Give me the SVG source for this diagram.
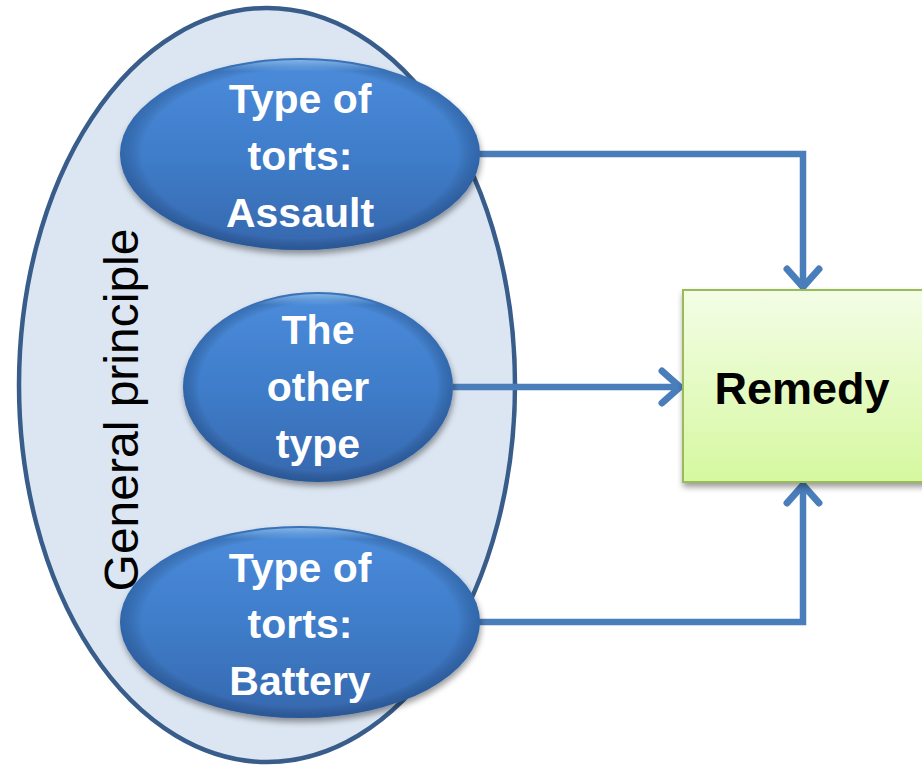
<svg xmlns="http://www.w3.org/2000/svg" width="922" height="766" viewBox="0 0 922 766">
<defs>
<linearGradient id="blue" x1="0" y1="0" x2="0" y2="1">
<stop offset="0" stop-color="#4b8cdb"/>
<stop offset="0.5" stop-color="#3f7dca"/>
<stop offset="1" stop-color="#3668ae"/>
</linearGradient>
<radialGradient id="edge" cx="0.5" cy="0.5" r="0.5">
<stop offset="0.88" stop-color="#000" stop-opacity="0"/>
<stop offset="1" stop-color="#0a2a5a" stop-opacity="0.28"/>
</radialGradient>
<linearGradient id="gloss" x1="0" y1="0" x2="0" y2="1">
<stop offset="0" stop-color="#9fd0ff" stop-opacity="0.7"/>
<stop offset="0.06" stop-color="#9fd0ff" stop-opacity="0"/>
</linearGradient>
<linearGradient id="green" x1="0" y1="0" x2="0" y2="1">
<stop offset="0" stop-color="#f3fde6"/>
<stop offset="1" stop-color="#d6f8a0"/>
</linearGradient>
<filter id="sh" x="-10%" y="-10%" width="125%" height="130%">
<feGaussianBlur in="SourceAlpha" stdDeviation="3"/>
<feOffset dx="1" dy="4" result="b"/>
<feComponentTransfer><feFuncA type="linear" slope="0.4"/></feComponentTransfer>
<feMerge><feMergeNode/><feMergeNode in="SourceGraphic"/></feMerge>
</filter>
<marker id="arr" viewBox="0 0 40 40" refX="34" refY="20" markerWidth="40" markerHeight="40" markerUnits="userSpaceOnUse" orient="auto">
<path d="M16,4 L34,20 L16,36" fill="none" stroke="#4a7ebb" stroke-width="7" stroke-linecap="round" stroke-linejoin="round"/>
</marker>
<style>
.node text{font-family:"Liberation Sans",Arial,sans-serif;font-weight:bold;fill:#fff;font-size:41px;text-anchor:middle}
.conn path{fill:none;stroke:#4a7ebb;stroke-width:6.5;marker-end:url(#arr)}
</style>
</defs>
<g id="general-principle">
<ellipse cx="267" cy="385" rx="248" ry="377" fill="#dce6f2" stroke="#385d8a" stroke-width="4.5"/>
<text transform="translate(138,410) rotate(-90)" text-anchor="middle" font-family="'Liberation Sans',Arial,sans-serif" font-size="48" fill="#000">General principle</text>
</g>
<g class="conn" id="connectors">
<path d="M478,154 L803,154 L803,287"/>
<path d="M453,387 L680,387"/>
<path d="M478,622 L803,622 L803,485"/>
</g>
<g class="node" id="assault">
<ellipse cx="300" cy="154" rx="180" ry="96" fill="url(#blue)" filter="url(#sh)"/>
<ellipse cx="300" cy="154" rx="180" ry="96" fill="url(#edge)"/>
<ellipse cx="300" cy="154" rx="178" ry="94" fill="url(#gloss)"/>
<text x="300" y="113">Type of</text>
<text x="300" y="170">torts:</text>
<text x="300" y="227">Assault</text>
</g>
<g class="node" id="other">
<ellipse cx="318" cy="387" rx="135" ry="95" fill="url(#blue)" filter="url(#sh)"/>
<ellipse cx="318" cy="387" rx="135" ry="95" fill="url(#edge)"/>
<ellipse cx="318" cy="387" rx="133" ry="93" fill="url(#gloss)"/>
<text x="318" y="344">The</text>
<text x="318" y="401">other</text>
<text x="318" y="458">type</text>
</g>
<g class="node" id="battery">
<ellipse cx="300" cy="622" rx="180" ry="96" fill="url(#blue)" filter="url(#sh)"/>
<ellipse cx="300" cy="622" rx="180" ry="96" fill="url(#edge)"/>
<ellipse cx="300" cy="622" rx="178" ry="94" fill="url(#gloss)"/>
<text x="300" y="582">Type of</text>
<text x="300" y="638">torts:</text>
<text x="300" y="695">Battery</text>
</g>
<g id="remedy">
<rect x="683" y="290" width="245" height="192" fill="url(#green)" stroke="#9bbb59" stroke-width="2" filter="url(#sh)"/>
<text x="802" y="404" text-anchor="middle" font-family="'Liberation Sans',Arial,sans-serif" font-weight="bold" font-size="45" fill="#000">Remedy</text>
</g>
</svg>
